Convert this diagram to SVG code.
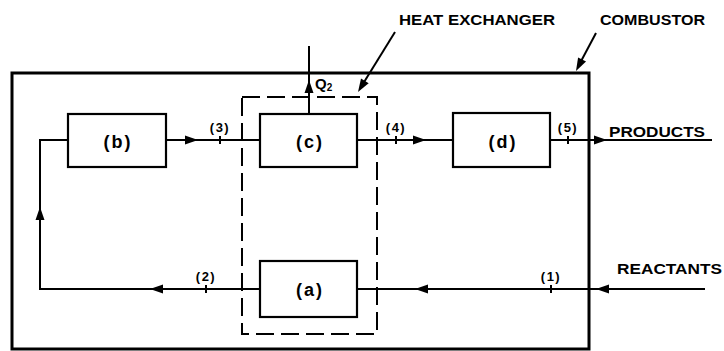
<svg xmlns="http://www.w3.org/2000/svg" xmlns:xlink="http://www.w3.org/1999/xlink" width="724" height="351" viewBox="0 0 724 351">
<style>
.ln{fill:none;stroke:#000;stroke-width:2}
.box{fill:#fff;stroke:#000;stroke-width:2.2}
.dash{fill:none;stroke:#000;stroke-width:2;stroke-dasharray:18 7}
.lbl{font-family:"Liberation Sans",Arial,sans-serif;font-weight:bold;font-size:15px;fill:#000}
.nl{font-family:"Liberation Sans",Arial,sans-serif;font-weight:bold;font-size:18px;fill:#000;text-anchor:middle;letter-spacing:2px}
.pt{font-family:"Liberation Sans",Arial,sans-serif;font-weight:bold;font-size:13px;fill:#000;text-anchor:middle;letter-spacing:1.5px}
</style>
<defs>
<path id="ah" d="M0,0 L-13,-4.5 L-13,4.5 Z" fill="#000"/>
</defs>
<rect width="724" height="351" fill="#fff"/>
<g id="combustor">
<rect x="12" y="73" width="577" height="276" fill="none" stroke="#000" stroke-width="3"/>
</g>
<g id="heat-exchanger">
<rect x="242" y="97" width="135" height="237" class="dash"/>
</g>
<g id="connectors">
<polyline class="ln" points="68,140 40,140 40,289 260,289"/>
<line class="ln" x1="166" y1="140" x2="260" y2="140"/>
<line class="ln" x1="357" y1="140" x2="453" y2="140"/>
<line class="ln" x1="550" y1="140" x2="712" y2="140"/>
<line class="ln" x1="357" y1="289" x2="705" y2="289"/>
<line class="ln" x1="309" y1="114" x2="309" y2="46"/>
<use xlink:href="#ah" transform="translate(40,207) rotate(-90)"/>
<use xlink:href="#ah" transform="translate(198,140)"/>
<use xlink:href="#ah" transform="translate(426,140)"/>
<use xlink:href="#ah" transform="translate(607,140)"/>
<use xlink:href="#ah" transform="translate(596,289) rotate(180)"/>
<use xlink:href="#ah" transform="translate(415,289) rotate(180)"/>
<use xlink:href="#ah" transform="translate(150,289) rotate(180)"/>
<use xlink:href="#ah" transform="translate(309,80) rotate(-90)"/>
<g stroke="#000" stroke-width="2">
<line x1="220" y1="136" x2="220" y2="144"/>
<line x1="396" y1="136" x2="396" y2="144"/>
<line x1="568" y1="136" x2="568" y2="144"/>
<line x1="551" y1="285" x2="551" y2="293"/>
<line x1="206" y1="285" x2="206" y2="293"/>
</g>
<line class="ln" x1="395" y1="32" x2="361" y2="87"/>
<use xlink:href="#ah" transform="translate(358,92) rotate(121.7)"/>
<line class="ln" x1="596" y1="33" x2="579" y2="65"/>
<use xlink:href="#ah" transform="translate(576,71) rotate(117.8)"/>
</g>
<g id="node-b"><rect class="box" x="68" y="114" width="98" height="53"/><text class="nl" x="118" y="148">(b)</text></g>
<g id="node-c"><rect class="box" x="260" y="114" width="97" height="53"/><text class="nl" x="310" y="148">(c)</text></g>
<g id="node-d"><rect class="box" x="453" y="113" width="97" height="54"/><text class="nl" x="503" y="148">(d)</text></g>
<g id="node-a"><rect class="box" x="260" y="261" width="97" height="56"/><text class="nl" x="310" y="296">(a)</text></g>
<g id="labels">
<text class="pt" x="220" y="132">(3)</text>
<text class="pt" x="396" y="132">(4)</text>
<text class="pt" x="568" y="132">(5)</text>
<text class="pt" x="551" y="281">(1)</text>
<text class="pt" x="206" y="281">(2)</text>
<text class="lbl" x="315" y="89" font-size="14">Q<tspan font-size="10" dy="2">2</tspan></text>
<text class="lbl" x="399" y="25" textLength="156" lengthAdjust="spacingAndGlyphs">HEAT EXCHANGER</text>
<text class="lbl" x="600" y="25" textLength="105" lengthAdjust="spacingAndGlyphs">COMBUSTOR</text>
<text class="lbl" x="609" y="137" textLength="96" lengthAdjust="spacingAndGlyphs">PRODUCTS</text>
<text class="lbl" x="617" y="274" textLength="105" lengthAdjust="spacingAndGlyphs">REACTANTS</text>
</g>
</svg>
